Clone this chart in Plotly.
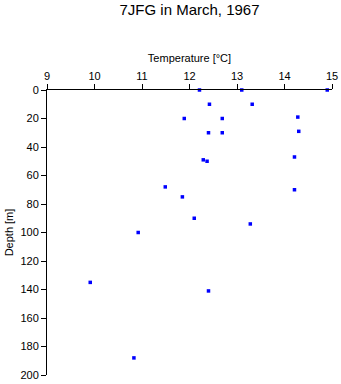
import plotly.graph_objects as go

temperature = [12.21, 13.10, 14.90, 12.42, 13.32, 11.89, 12.69, 14.28, 12.40, 12.69,
               14.30, 12.29, 12.37, 14.21, 11.49, 11.85, 14.21, 12.10, 10.92, 13.28,
               9.91, 12.40, 10.83]
depth = [0, 0, 0, 10, 10, 20, 20, 19, 30, 30,
         29, 49, 50, 47, 68, 75, 70, 90, 100, 94,
         135, 141, 188]
x_ticks = [9, 10, 11, 12, 13, 14, 15]
y_ticks = [0, 20, 40, 60, 80, 100, 120, 140, 160, 180, 200]

fig = go.Figure(go.Scatter(
    x=temperature, y=depth, mode="markers",
    marker=dict(symbol="square", size=3.5, color="#0000ff", line=dict(width=0)),
    cliponaxis=False,
))

font = "Liberation Sans, Arial, sans-serif"
fig.update_layout(
    width=341, height=384,
    margin=dict(l=47, r=9, t=90, b=9),
    paper_bgcolor="white", plot_bgcolor="white",
    showlegend=False,
    font=dict(family=font, color="black", size=11),
    title=dict(text="7JFG in March, 1967", x=0.5, xref="paper", xanchor="center",
               y=1 - 4 / 384, yref="container", yanchor="top",
               font=dict(size=15, family=font, color="black")),
    xaxis=dict(side="top", range=[9, 15], tickvals=x_ticks, ticktext=[str(v) for v in x_ticks],
               showgrid=False, zeroline=False, showline=True, linecolor="black", linewidth=1,
               ticks="outside", ticklen=5, tickcolor="black", tickwidth=1, automargin=False,
               title=dict(text="Temperature [°C]", standoff=4, font=dict(size=11))),
    yaxis=dict(range=[200, 0], tickvals=y_ticks, ticktext=[str(v) for v in y_ticks],
               showgrid=False, zeroline=False, showline=True, linecolor="black", linewidth=1,
               ticks="outside", ticklen=5, tickcolor="black", tickwidth=1, automargin=False,
               title=dict(text="Depth [m]", standoff=4, font=dict(size=11))),
)

fig.write_html("out.html", config={"displayModeBar": False, "staticPlot": True},
               post_script="document.body.style.margin='0';")
